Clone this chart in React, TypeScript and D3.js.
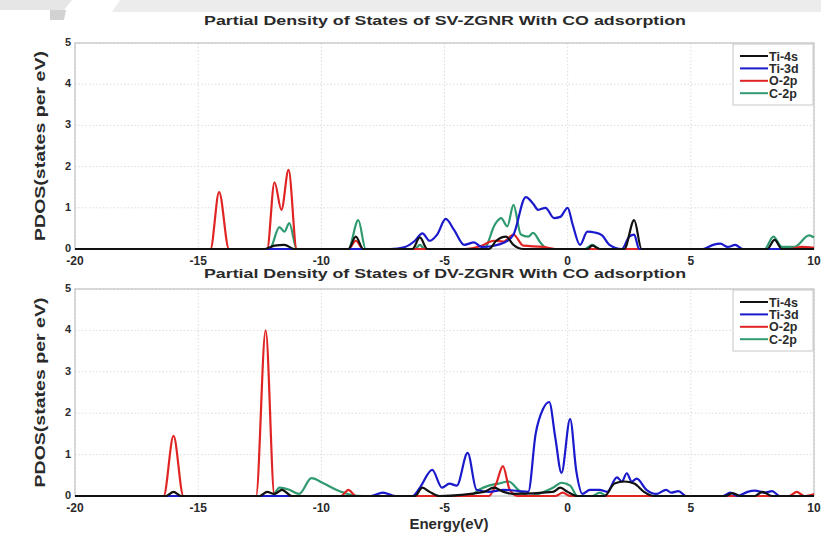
import * as d3 from "d3";

type Pt = [number, number];

// energy ticks / y ticks
const xTicks = [-20, -15, -10, -5, 0, 5, 10];
const yTicks = [0, 1, 2, 3, 4, 5];
const seriesNames = ["Ti-4s", "Ti-3d", "O-2p", "C-2p"];
const seriesColors = ["#111111", "#1a1acc", "#e02424", "#2f9a6f"];

// SV-ZGNR with CO (top panel)
const svTi4s: Pt[] = [[-20,0],[-12.3,0],[-11.9,0.08],[-11.5,0.1],[-11.1,0],[-8.9,0],[-8.6,0.3],[-8.3,0],[-6.3,0],[-6.0,0.28],[-5.7,0],[-3.2,0],[-2.9,0.2],[-2.5,0.3],[-2.2,0.1],[-1.8,0],[0.8,0],[1.0,0.08],[1.3,0],[2.3,0],[2.7,0.7],[3.0,0],[8.1,0],[8.4,0.22],[8.7,0],[10,0]];
const svTi3d: Pt[] = [[-20,0],[-7.2,0],[-6.6,0.05],[-6.2,0.2],[-5.9,0.38],[-5.6,0.2],[-5.3,0.35],[-4.95,0.73],[-4.6,0.45],[-4.2,0.1],[-3.8,0.16],[-3.5,0.05],[-3.0,0.08],[-2.6,0.15],[-2.2,0.35],[-1.7,1.26],[-1.4,1.1],[-1.2,0.95],[-0.9,1.0],[-0.55,0.75],[-0.3,0.78],[0.0,1.0],[0.2,0.6],[0.5,0.1],[0.8,0.42],[1.1,0.4],[1.4,0.33],[1.7,0.1],[2.2,0],[2.5,0.3],[2.7,0.35],[2.9,0],[5.5,0],[5.9,0.1],[6.2,0.13],[6.5,0.05],[6.8,0.1],[7.1,0],[10,0]];
const svO2p: Pt[] = [[-20,0],[-14.5,0],[-14.15,1.38],[-13.75,0],[-12.2,0],[-11.9,1.62],[-11.62,0.95],[-11.33,1.92],[-11.0,0],[-8.9,0],[-8.6,0.2],[-8.3,0],[-4.2,0],[-3.5,0.08],[-3.0,0.2],[-2.6,0.18],[-2.2,0.35],[-1.8,0.08],[-1.0,0.05],[-0.5,0],[9.0,0],[9.5,0.05],[10,0.03]];
const svC2p: Pt[] = [[-20,0],[-12.1,0],[-11.7,0.53],[-11.5,0.42],[-11.3,0.63],[-11.0,0],[-8.9,0],[-8.5,0.7],[-8.2,0],[-6.2,0],[-6.0,0.1],[-5.8,0],[-3.4,0],[-2.95,0.6],[-2.7,0.75],[-2.45,0.55],[-2.2,1.07],[-1.9,0.35],[-1.6,0.3],[-1.4,0.39],[-1.1,0.15],[-0.8,0],[0.7,0],[1.0,0.1],[1.3,0],[8.0,0],[8.35,0.3],[8.7,0.05],[9.2,0.05],[9.8,0.33],[10,0.28]];

// DV-ZGNR with CO (bottom panel)
const dvTi4s: Pt[] = [[-20,0],[-16.3,0],[-16.0,0.1],[-15.7,0],[-12.5,0],[-12.2,0.1],[-11.9,0.05],[-11.6,0.15],[-11.2,0],[-6.2,0],[-5.9,0.2],[-5.6,0.1],[-5.2,0],[-3.4,0.1],[-3.0,0.2],[-2.6,0.1],[-2.2,0.05],[-0.6,0.1],[-0.3,0.2],[0,0.1],[0.4,0],[1.5,0],[1.9,0.3],[2.3,0.35],[2.7,0.3],[3.1,0.1],[3.5,0],[6.4,0],[6.7,0.07],[7.0,0],[7.6,0],[7.9,0.1],[8.3,0],[10,0]];
const dvTi3d: Pt[] = [[-20,0],[-8.0,0],[-7.5,0.08],[-7.0,0],[-6.3,0],[-6.0,0.2],[-5.5,0.63],[-5.1,0.2],[-4.8,0.3],[-4.5,0.25],[-4.06,1.04],[-3.7,0.15],[-3.2,0.1],[-2.6,0.15],[-2.0,0.12],[-1.6,0.1],[-1.3,1.5],[-1.0,2.1],[-0.75,2.27],[-0.5,1.4],[-0.25,0.56],[0.1,1.86],[0.35,0.6],[0.6,0.05],[0.9,0.15],[1.3,0.15],[1.6,0.1],[2.0,0.45],[2.2,0.35],[2.4,0.55],[2.6,0.35],[2.8,0.42],[3.2,0.15],[3.6,0.05],[4.0,0.15],[4.2,0.08],[4.5,0.12],[4.8,0],[6.3,0],[6.6,0.08],[6.9,0],[7.3,0.1],[7.6,0.13],[8.0,0.08],[8.3,0.12],[8.6,0],[10,0]];
const dvO2p: Pt[] = [[-20,0],[-16.4,0],[-16.0,1.45],[-15.6,0],[-12.65,0],[-12.26,4.0],[-11.9,0],[-9.2,0],[-8.9,0.15],[-8.6,0],[-3.2,0],[-2.9,0.3],[-2.63,0.72],[-2.35,0.15],[-2.0,0],[-0.5,0],[-0.2,0.08],[0.1,0],[9.0,0],[9.3,0.1],[9.6,0],[10,0.05]];
const dvC2p: Pt[] = [[-20,0],[-12.0,0],[-11.7,0.2],[-11.3,0.15],[-10.9,0.05],[-10.4,0.43],[-9.9,0.3],[-9.4,0.15],[-8.8,0.03],[-8.3,0],[-4.0,0],[-3.6,0.15],[-3.2,0.25],[-2.8,0.3],[-2.4,0.35],[-2.0,0.15],[-1.6,0],[-0.6,0.2],[-0.25,0.32],[0.1,0.25],[0.4,0],[1.0,0],[1.3,0.08],[1.6,0],[10,0]];

const font = "'Liberation Sans', Arial, sans-serif";
const textCol = "#2a2a2a";

function Panel({ title, top, bottom, series, titleY }: { title: string; top: number; bottom: number; series: Pt[][]; titleY: number }) {
    const x = d3.scaleLinear([-20, 10], [75, 814]);
    const y = d3.scaleLinear([0, 5], [bottom, top]);
    const line = d3.line<Pt>().x(d => x(d[0])).y(d => y(d[1])).curve(d3.curveMonotoneX);
    // draw order: green, red, blue, black
    const order = [3, 2, 1, 0];
    const legX = 735;
    const legTop = top + 1;

    return (
        <g>
            <text x={445} y={titleY} textAnchor="middle" fontFamily={font} fontWeight="bold" fontSize={12.5} fill={textCol} textLength={482} lengthAdjust="spacingAndGlyphs">{title}</text>
            {xTicks.map(t => (
                <line key={"gx" + t} x1={x(t)} x2={x(t)} y1={top} y2={bottom} stroke="#dcdcdc" strokeDasharray="1.5,2" />
            ))}
            {yTicks.map(t => (
                <line key={"gy" + t} x1={75} x2={814} y1={y(t)} y2={y(t)} stroke="#dcdcdc" strokeDasharray="1.5,2" />
            ))}
            <rect x={75} y={top} width={739} height={bottom - top} fill="none" stroke="#b8b8b8" strokeWidth={1} />
            {order.map(i => (
                <path key={i} d={line(series[i]) || ""} fill="none" stroke={seriesColors[i]} strokeWidth={2.2} strokeLinejoin="round" />
            ))}
            {yTicks.map(t => (
                <text key={"ty" + t} x={71} y={y(t) + 3} textAnchor="end" fontFamily={font} fontWeight="bold" fontSize={11} fill={textCol}>{t}</text>
            ))}
            {xTicks.map(t => (
                <text key={"tx" + t} x={x(t)} y={bottom + 16} textAnchor="middle" fontFamily={font} fontWeight="bold" fontSize={12} fill={textCol}>{t}</text>
            ))}
            <text transform={`translate(45, ${(top + bottom) / 2}) rotate(-90)`} textAnchor="middle" fontFamily={font} fontWeight="bold" fontSize={14} fill={textCol} textLength={190} lengthAdjust="spacingAndGlyphs">PDOS(states per eV)</text>
            <g>
                <rect x={legX - 2} y={legTop} width={814 - legX + 1} height={61} fill="#fff" stroke="#c8c8c8" />
                {seriesNames.map((n, i) => (
                    <g key={n}>
                        <line x1={legX + 5} x2={legX + 33} y1={legTop + 12 + i * 12.4} y2={legTop + 12 + i * 12.4} stroke={seriesColors[i]} strokeWidth={2} />
                        <text x={legX + 34} y={legTop + 16.5 + i * 12.4} fontFamily={font} fontWeight="bold" fontSize={12.5} fill={textCol}>{n}</text>
                    </g>
                ))}
            </g>
        </g>
    );
}

export default function App() {
    return (
        <svg width={821} height={534} style={{ position: "absolute", left: 0, top: 0, background: "#fff" }}>
            <rect width={821} height={534} fill="#fff" />
            {/* faded banner at the top of the scan */}
            <polygon points="0,0 72,0 64,10 0,10" fill="#e6e6e6" />
            <polygon points="50,10 66,10 64,20 50,20" fill="#d2d2d2" />
            <polygon points="120,0 821,0 821,12 112,12" fill="#ececec" />
            <Panel title="Partial Density of States of SV-ZGNR With CO adsorption" top={43} bottom={249} titleY={25} series={[svTi4s, svTi3d, svO2p, svC2p]} />
            <Panel title="Partial Density of States of DV-ZGNR With CO adsorption" top={289} bottom={496} titleY={278} series={[dvTi4s, dvTi3d, dvO2p, dvC2p]} />
            <text x={449} y={529} textAnchor="middle" fontFamily={font} fontWeight="bold" fontSize={15} fill={textCol}>Energy(eV)</text>
        </svg>
    );
}
